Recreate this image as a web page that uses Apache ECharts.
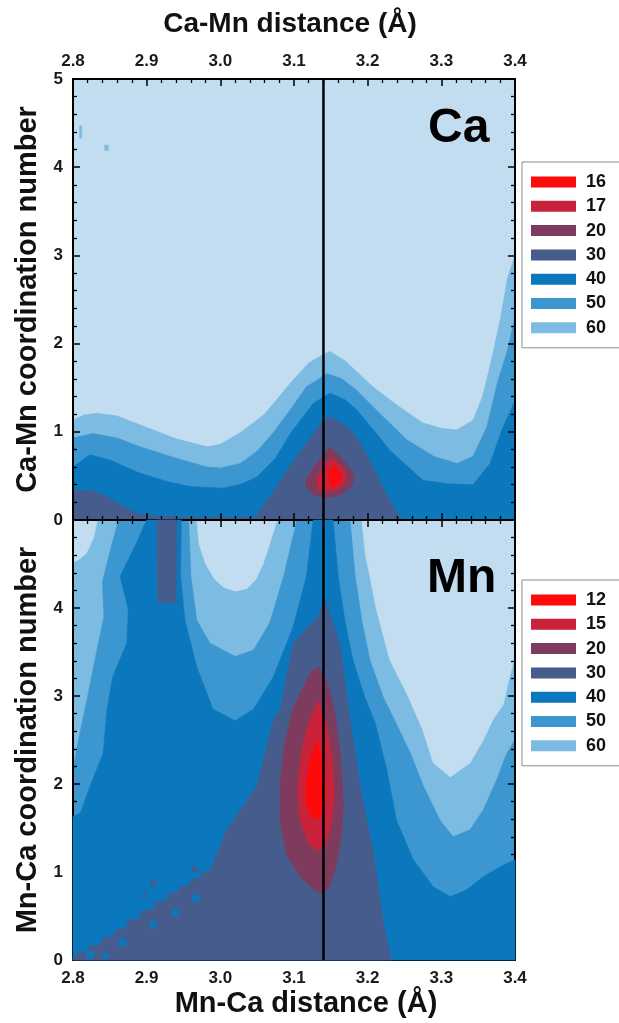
<!DOCTYPE html>
<html>
<head>
<meta charset="utf-8">
<script src="https://cdn.jsdelivr.net/npm/echarts@6/dist/echarts.min.js"></script>
<style>
  html, body { margin: 0; padding: 0; background: #fff; }
  #chart { width: 619px; height: 1023px; }
</style>
</head>
<body>
<div id="chart"></div>
<script>
// x/y ticks
var xTicks = [2.8, 2.9, 3.0, 3.1, 3.2, 3.3, 3.4];
var yTicks = [0, 1, 2, 3, 4, 5];
var refDistance = 3.14;          // vertical marker line

var caLevels = ['16', '17', '20', '30', '40', '50', '60'];
var mnLevels = ['12', '15', '20', '30', '40', '50', '60'];

// ---- Ca panel: contour regions (distance, coordination number) ----
var ca60 = [
    [[2.8, 0], [2.8, 1.13], [2.815, 1.19], [2.833, 1.21], [2.86, 1.18], [2.9, 1.05], [2.94, 0.92], [2.982, 0.83],
        [3.0, 0.86], [3.027, 0.99], [3.06, 1.2], [3.095, 1.55], [3.12, 1.78], [3.14, 1.88], [3.149, 1.91],
        [3.17, 1.8], [3.207, 1.51], [3.24, 1.3], [3.275, 1.1], [3.3, 1.04], [3.321, 1.02], [3.343, 1.13],
        [3.356, 1.4], [3.366, 1.74], [3.38, 2.27], [3.39, 2.75], [3.4, 3.0], [3.4, 0]],
    [[2.809, 4.33], [2.812, 4.33], [2.812, 4.47], [2.809, 4.47]],
    [[2.843, 4.19], [2.848, 4.19], [2.848, 4.25], [2.843, 4.25]]
];
var ca50 = [
    [[2.8, 0], [2.8, 0.93], [2.827, 0.98], [2.86, 0.93], [2.891, 0.83], [2.94, 0.7], [2.982, 0.6], [3.0, 0.59],
        [3.027, 0.64], [3.05, 0.78], [3.071, 0.98], [3.095, 1.25], [3.117, 1.51], [3.145, 1.66], [3.165, 1.6],
        [3.185, 1.47], [3.22, 1.18], [3.253, 0.91], [3.29, 0.72], [3.321, 0.64], [3.343, 0.72], [3.362, 1.06],
        [3.376, 1.55], [3.39, 1.93], [3.4, 2.3], [3.4, 0]]
];
var ca40 = [
    [[2.8, 0], [2.8, 0.6], [2.823, 0.74], [2.85, 0.68], [2.891, 0.53], [2.93, 0.43], [2.959, 0.38], [3.004, 0.36],
        [3.03, 0.41], [3.05, 0.49], [3.075, 0.7], [3.095, 0.98], [3.126, 1.32], [3.149, 1.44], [3.17, 1.36],
        [3.185, 1.25], [3.21, 1.0], [3.23, 0.79], [3.255, 0.6], [3.275, 0.45], [3.31, 0.41], [3.343, 0.4],
        [3.366, 0.64], [3.384, 1.06], [3.4, 1.35], [3.4, 0]]
];
var ca30 = [
    [[2.8, 0], [2.8, 0.33], [2.823, 0.34], [2.845, 0.27], [2.868, 0.15], [2.891, 0.06], [2.95, 0.03],
        [3.05, 0.03], [3.05, 0]],
    [[3.045, 0], [3.07, 0.3], [3.095, 0.62], [3.117, 0.87], [3.135, 1.08], [3.149, 1.17], [3.165, 1.1],
        [3.18, 0.99], [3.195, 0.8], [3.207, 0.6], [3.225, 0.3], [3.244, 0.03], [3.246, 0]]
];
var ca20 = [
    [[3.148, 0.83], [3.16, 0.74], [3.175, 0.6], [3.182, 0.49], [3.178, 0.38], [3.165, 0.29], [3.145, 0.25],
        [3.128, 0.28], [3.117, 0.36], [3.116, 0.45], [3.125, 0.57], [3.138, 0.72]]
];
var ca17 = [
    [[3.151, 0.71], [3.162, 0.63], [3.172, 0.51], [3.168, 0.4], [3.155, 0.33], [3.14, 0.32], [3.131, 0.38],
        [3.131, 0.47], [3.14, 0.6]]
];
var ca16 = [
    [[3.154, 0.62], [3.162, 0.55], [3.164, 0.45], [3.158, 0.39], [3.15, 0.39], [3.147, 0.47], [3.148, 0.56]]
];

// ---- Mn panel ----
var mn60 = [[[2.8, 0], [3.4, 0], [3.4, 5], [2.8, 5]]];
// regions above 60 (background colour)
var mnTop = [
    [[2.8, 5], [2.833, 5], [2.828, 4.8], [2.818, 4.62], [2.808, 4.55], [2.8, 4.52]],
    [[2.968, 5], [2.971, 4.73], [2.98, 4.5], [2.992, 4.33], [3.004, 4.24], [3.02, 4.19], [3.036, 4.22],
        [3.048, 4.32], [3.058, 4.5], [3.067, 4.73], [3.077, 5]],
    [[3.192, 5], [3.197, 4.6], [3.203, 4.36], [3.212, 3.98], [3.23, 3.41], [3.253, 3.03], [3.275, 2.61],
        [3.289, 2.24], [3.312, 2.08], [3.339, 2.24], [3.357, 2.5], [3.37, 2.73], [3.384, 2.9], [3.392, 3.2],
        [3.4, 3.45], [3.4, 5]]
];
var mn50 = [
    [[2.8, 0], [3.4, 0], [3.4, 2.5], [3.389, 2.35], [3.375, 2.045], [3.357, 1.705], [3.339, 1.48], [3.316, 1.4],
        [3.298, 1.59], [3.276, 1.97], [3.258, 2.35], [3.238, 2.7], [3.221, 2.99], [3.203, 3.41], [3.192, 3.86],
        [3.183, 4.36], [3.176, 5], [3.104, 5], [3.086, 4.36], [3.067, 3.83], [3.045, 3.52], [3.02, 3.45],
        [2.986, 3.6], [2.968, 3.86], [2.96, 4.36], [2.957, 5], [2.862, 5], [2.852, 4.7], [2.84, 4.3],
        [2.842, 3.9], [2.832, 3.5], [2.82, 3.0], [2.81, 2.6], [2.803, 2.3], [2.8, 2.2]]
];
var mn40 = [
    [[2.8, 0], [3.4, 0], [3.4, 1.14], [3.38, 1.06], [3.357, 0.947], [3.334, 0.795], [3.312, 0.72], [3.289, 0.833],
        [3.262, 1.14], [3.239, 1.59], [3.226, 2.16], [3.21, 2.7], [3.196, 2.99], [3.18, 3.41], [3.169, 3.86],
        [3.16, 4.36], [3.153, 5], [3.126, 5], [3.117, 4.36], [3.099, 3.79], [3.072, 3.22], [3.045, 2.85],
        [3.02, 2.72], [2.99, 2.85], [2.968, 3.33], [2.952, 3.86], [2.946, 4.36], [2.947, 5], [2.9, 5],
        [2.886, 4.735], [2.864, 4.36], [2.875, 3.98], [2.873, 3.6], [2.854, 3.22], [2.846, 2.84], [2.841, 2.35],
        [2.823, 1.97], [2.81, 1.67], [2.8, 1.63]]
];
var mn30 = [
    [[2.914, 5], [2.941, 5], [2.94, 4.06], [2.915, 4.06]],
    [[2.8, 0], [3.232, 0], [3.23, 0.08], [3.221, 0.45], [3.208, 1.21], [3.19, 1.97], [3.175, 2.8], [3.162, 3.6],
        [3.15, 3.9], [3.142, 4.1], [3.132, 3.9], [3.099, 3.6], [3.081, 2.84], [3.072, 2.73], [3.049, 1.97],
        [3.009, 1.48], [2.99, 1.1], [2.985, 1.0], [2.975, 1.0], [2.972, 0.92], [2.96, 0.92], [2.958, 0.84],
        [2.945, 0.84], [2.943, 0.76], [2.93, 0.76], [2.928, 0.68], [2.912, 0.66], [2.91, 0.58], [2.893, 0.56],
        [2.89, 0.47], [2.875, 0.45], [2.872, 0.36], [2.858, 0.34], [2.855, 0.27], [2.84, 0.25], [2.838, 0.18],
        [2.822, 0.16], [2.82, 0.1], [2.806, 0.09], [2.805, 0.04], [2.8, 0.03]],
    [[2.906, 0.84], [2.912, 0.84], [2.912, 0.9], [2.906, 0.9]],
    [[2.893, 0.72], [2.899, 0.72], [2.899, 0.78], [2.893, 0.72]],
    [[2.962, 1.0], [2.968, 1.0], [2.968, 1.06], [2.962, 1.06]]
];
// level-40 specks left inside the dithered level-30 area
var mn40Specks = [
    [[2.962, 0.66], [2.972, 0.66], [2.972, 0.74], [2.962, 0.74]],
    [[2.935, 0.5], [2.943, 0.5], [2.943, 0.58], [2.935, 0.58]],
    [[2.905, 0.36], [2.913, 0.36], [2.913, 0.44], [2.905, 0.44]],
    [[2.862, 0.16], [2.872, 0.16], [2.872, 0.24], [2.862, 0.24]],
    [[2.818, 0.02], [2.828, 0.02], [2.828, 0.1], [2.818, 0.1]],
    [[2.84, 0.02], [2.848, 0.02], [2.848, 0.08], [2.84, 0.08]]
];
var mn20 = [
    [[3.134, 3.33], [3.145, 3.15], [3.155, 2.84], [3.163, 2.3], [3.167, 1.8], [3.164, 1.4], [3.157, 1.05],
        [3.148, 0.82], [3.138, 0.76], [3.127, 0.8], [3.108, 0.95], [3.09, 1.2], [3.081, 1.6], [3.081, 2.0],
        [3.087, 2.45], [3.098, 2.84], [3.112, 3.1], [3.124, 3.28]]
];
var mn15 = [
    [[3.133, 2.95], [3.143, 2.7], [3.152, 2.3], [3.155, 1.9], [3.151, 1.55], [3.142, 1.3], [3.132, 1.24],
        [3.12, 1.32], [3.108, 1.6], [3.105, 1.95], [3.11, 2.35], [3.12, 2.7]]
];
var mn12 = [
    [[3.132, 2.5], [3.139, 2.25], [3.143, 1.95], [3.14, 1.72], [3.132, 1.6], [3.123, 1.62], [3.116, 1.78],
        [3.116, 2.0], [3.121, 2.25], [3.127, 2.42]]
];

var C = {
    bg: '#c2ddef', c60: '#7cbbe2', c50: '#3c96d0', c40: '#0b78bd', c30: '#465c8c',
    c20: '#7e3b5e', c17: '#c9233b', c16: '#fd0a0a'
};
var FONT = '"Liberation Sans", Arial, sans-serif';

var chart = echarts.init(document.getElementById('chart'));

var zIdx = 1;
function layer(name, color, g, polys) {
    return {
        type: 'custom',
        name: name,
        xAxisIndex: g * 2,
        yAxisIndex: g * 2,
        silent: true,
        animation: false,
        z: zIdx++,
        itemStyle: {color: color},
        data: [polys[0][0]],
        renderItem: function (params, api) {
            return {
                type: 'group',
                children: polys.map(function (p) {
                    return {
                        type: 'polygon',
                        shape: {points: p.map(function (pt) { return api.coord(pt); })},
                        style: {fill: color, stroke: color, lineWidth: 0.6}
                    };
                })
            };
        }
    };
}

function xAx(grid, pos, showLabel, name, nameSize, nameGap, margin, namePad) {
    return {
        type: 'value', gridIndex: grid, position: pos, min: 2.8, max: 3.4, interval: 0.1, z: 10,
        axisLine: {show: true, onZero: false, lineStyle: {color: '#000', width: 2}},
        axisTick: {show: true, inside: true, length: 7, lineStyle: {color: '#000', width: 1.5}},
        minorTick: {show: true, splitNumber: 5, length: 4, lineStyle: {color: '#000', width: 1.3}},
        splitLine: {show: false},
        axisLabel: {
            show: showLabel, margin: margin || 8, color: '#1a1a1a', fontFamily: FONT, fontWeight: 'bold', fontSize: 17,
            formatter: function (v) { return v.toFixed(1); }
        },
        name: name || '', nameLocation: 'middle', nameGap: nameGap || 0,
        nameTextStyle: {fontFamily: FONT, fontWeight: 'bold', fontSize: nameSize || 12, color: '#111',
            padding: namePad || 0}
    };
}
function yAx(grid, pos, showLabel, name, hideTop) {
    return {
        type: 'value', gridIndex: grid, position: pos, min: 0, max: 5, interval: 1, z: 10,
        axisLine: {show: true, onZero: false, lineStyle: {color: '#000', width: 2}},
        axisTick: {show: true, inside: true, length: 7, lineStyle: {color: '#000', width: 1.5}},
        minorTick: {show: true, splitNumber: 5, length: 4, lineStyle: {color: '#000', width: 1.3}},
        splitLine: {show: false},
        axisLabel: {
            show: showLabel, margin: 10, color: '#1a1a1a', fontFamily: FONT, fontWeight: 'bold', fontSize: 17,
            formatter: function (v) { return (hideTop && v === 5) ? '' : String(v); }
        },
        name: name || '', nameLocation: 'middle', nameGap: 30,
        nameTextStyle: {fontFamily: FONT, fontWeight: 'bold', fontSize: 29, color: '#111'}
    };
}

function vline(g) {
    return {
        type: 'line', xAxisIndex: g * 2, yAxisIndex: g * 2, z: 30, silent: true, animation: false,
        symbol: 'none', data: [[refDistance, 0], [refDistance, 5]],
        lineStyle: {color: '#000', width: 2.5}
    };
}

function legendBox(top, names) {
    return {
        orient: 'vertical', left: 522, top: top, data: names, icon: 'rect',
        itemWidth: 45, itemHeight: 11, itemGap: 6.3,
        padding: [11, 40, 11, 9], borderColor: '#8c8c8c', borderWidth: 1, backgroundColor: '#fff',
        selectedMode: false,
        textStyle: {fontFamily: FONT, fontWeight: 'bold', fontSize: 18, lineHeight: 18, color: '#111', padding: [0, 0, 0, 5]}
    };
}

var series = [
    layer('60', C.c60, 0, ca60),
    layer('50', C.c50, 0, ca50),
    layer('40', C.c40, 0, ca40),
    layer('30', C.c30, 0, ca30),
    layer('20', C.c20, 0, ca20),
    layer('17', C.c17, 0, ca17),
    layer('16', C.c16, 0, ca16),
    layer('60', C.c60, 1, mn60),
    layer('bg', C.bg, 1, mnTop),
    layer('50', C.c50, 1, mn50),
    layer('40', C.c40, 1, mn40),
    layer('30', C.c30, 1, mn30),
    layer('40s', C.c40, 1, mn40Specks),
    layer('20', C.c20, 1, mn20),
    layer('15', C.c17, 1, mn15),
    layer('12', C.c16, 1, mn12),
    vline(0),
    vline(1)
];

chart.setOption({
    animation: false,
    backgroundColor: '#fff',
    grid: [
        {left: 73, top: 79, width: 442, height: 441, show: true, backgroundColor: C.bg, borderWidth: 0},
        {left: 73, top: 520, width: 442, height: 440, show: true, backgroundColor: C.bg, borderWidth: 0}
    ],
    xAxis: [
        xAx(0, 'top', true, 'Ca-Mn distance (Å)', 28, 41, 9, [0, 8, 0, 0]),
        xAx(0, 'bottom', false),
        xAx(1, 'top', false),
        xAx(1, 'bottom', true, 'Mn-Ca distance (Å)', 29, 29, 10, [0, 0, 0, 24])
    ],
    yAxis: [
        yAx(0, 'left', true, 'Ca-Mn coordination number', false),
        yAx(0, 'right', false),
        yAx(1, 'left', true, 'Mn-Ca coordination number', true),
        yAx(1, 'right', false)
    ],
    legend: [
        legendBox(162, caLevels),
        legendBox(580, mnLevels)
    ],
    graphic: [
        {type: 'text', left: 428, top: 105, z: 50,
            style: {text: 'Ca', fontFamily: FONT, fontWeight: 'bold', fontSize: 48, fill: '#000'}},
        {type: 'text', left: 427, top: 555, z: 50,
            style: {text: 'Mn', fontFamily: FONT, fontWeight: 'bold', fontSize: 48, fill: '#000'}}
    ],
    series: series
});
</script>
</body>
</html>
